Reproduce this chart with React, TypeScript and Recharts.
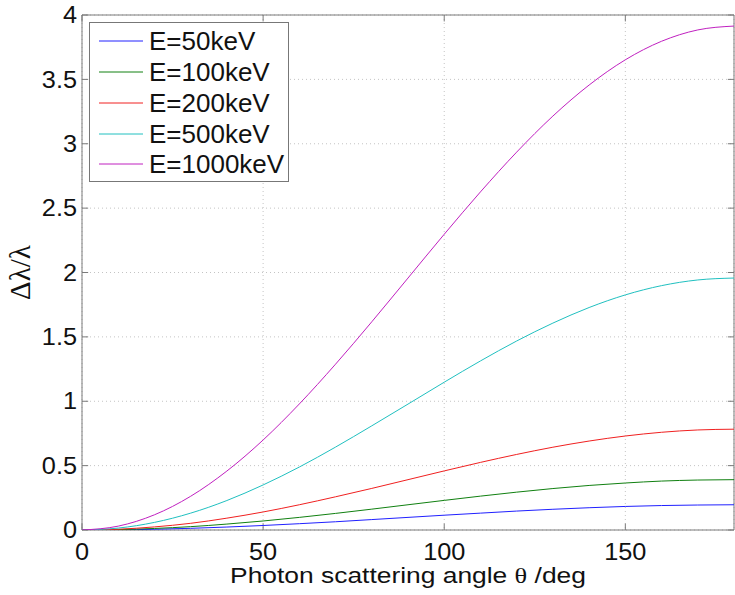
import {
  CartesianGrid,
  Label,
  Legend,
  Line,
  LineChart,
  ReferenceArea,
  ReferenceLine,
  XAxis,
  YAxis
} from 'recharts'

// scattering angle, degrees
const angles = [0, 10, 20, 30, 40, 50, 60, 70, 80, 90, 100, 110, 120, 130, 140, 150, 160, 170, 180]

// relative wavelength shift
const e50 = [0, 0.001, 0.006, 0.013, 0.023, 0.035, 0.049, 0.064, 0.081, 0.098, 0.115, 0.131, 0.147, 0.161, 0.173, 0.183, 0.19, 0.194, 0.196]
const e100 = [0, 0.003, 0.012, 0.026, 0.046, 0.07, 0.098, 0.129, 0.162, 0.196, 0.23, 0.263, 0.294, 0.322, 0.346, 0.365, 0.38, 0.388, 0.391]
const e200 = [0, 0.006, 0.024, 0.052, 0.092, 0.14, 0.196, 0.258, 0.323, 0.391, 0.459, 0.525, 0.587, 0.643, 0.691, 0.73, 0.759, 0.777, 0.783]
const e500 = [0, 0.015, 0.059, 0.131, 0.229, 0.35, 0.489, 0.644, 0.809, 0.978, 1.148, 1.313, 1.468, 1.607, 1.728, 1.826, 1.898, 1.942, 1.957]
const e1000 = [0, 0.03, 0.118, 0.262, 0.458, 0.699, 0.979, 1.288, 1.617, 1.957, 2.297, 2.626, 2.935, 3.215, 3.456, 3.652, 3.796, 3.884, 3.914]

const seriesKeys = ['e50', 'e100', 'e200', 'e500', 'e1000']
const seriesNames = ['E=50keV', 'E=100keV', 'E=200keV', 'E=500keV', 'E=1000keV']
const seriesColors = ['#2020ff', '#108010', '#f02020', '#20c0c0', '#c020c0']

const xTicks = [0, 50, 100, 150]
const yTicks = [0, 0.5, 1, 1.5, 2, 2.5, 3, 3.5, 4]

const data = angles.map((angle, i) => ({
  angle,
  e50: e50[i],
  e100: e100[i],
  e200: e200[i],
  e500: e500[i],
  e1000: e1000[i]
}))

const SANS = '"Liberation Sans", Arial, Helvetica, sans-serif'
const SERIF = '"Liberation Serif", "Times New Roman", serif'
const AXIS_GRAY = '#7a7a7a'
const TICK_STRETCH = 1.1
const LABEL_STRETCH = 1.2

function XTick(props: any) {
  const { x, y, payload } = props
  return (
    <text
      transform={`translate(${x},${y}) scale(${TICK_STRETCH},1)`}
      textAnchor="middle"
      dy="0.71em"
      fontSize={23}
      fontFamily={SANS}
      fill="#111"
    >
      {payload.value}
    </text>
  )
}

function YTick(props: any) {
  const { x, y, payload } = props
  return (
    <text
      transform={`translate(${x},${y}) scale(${TICK_STRETCH},1)`}
      textAnchor="end"
      dy="0.355em"
      fontSize={23}
      fontFamily={SANS}
      fill="#111"
    >
      {payload.value}
    </text>
  )
}

function XTitle(props: any) {
  const vb = props.viewBox
  return (
    <text
      transform={`translate(${vb.x + vb.width / 2},${vb.y + 53}) scale(${LABEL_STRETCH},1)`}
      textAnchor="middle"
      fontSize={22}
      fontFamily={SANS}
      fill="#111"
    >
      Photon scattering angle <tspan fontFamily={SERIF}>θ</tspan> /deg
    </text>
  )
}

function YTitle(props: any) {
  const vb = props.viewBox
  return (
    <text
      transform={`translate(${vb.x + 20},${vb.y + vb.height / 2}) rotate(-90)`}
      textAnchor="middle"
      dominantBaseline="central"
      fontSize={29}
      fontFamily={SERIF}
      fill="#111"
    >
      Δλ/λ
    </text>
  )
}

function LegendBox() {
  return (
    <div
      style={{
        width: 198,
        height: 155,
        border: '1px solid #777',
        background: '#fff',
        paddingTop: 3,
        boxSizing: 'content-box',
        fontFamily: SANS,
        fontSize: 26,
        color: '#111'
      }}
    >
      {seriesNames.map((name, i) => (
        <div key={name} style={{ display: 'flex', alignItems: 'center', height: 30.75 }}>
          <svg width={59} height={10} style={{ flex: 'none' }}>
            <line x1={9} x2={53} y1={5} y2={5} stroke={seriesColors[i]} strokeWidth={1} />
          </svg>
          <span style={{ whiteSpace: 'nowrap', lineHeight: 1 }}>{name}</span>
        </div>
      ))}
    </div>
  )
}

export default function App() {
  return (
    <div style={{ position: 'absolute', left: 0, top: 0, background: '#fff' }}>
      <LineChart width={735} height={595} data={data} margin={{ top: 15, right: 1, left: 0, bottom: 0 }}>
        <CartesianGrid stroke="#c4c4c4" strokeDasharray="1 3" />
        <XAxis
          type="number"
          dataKey="angle"
          domain={[0, 180]}
          ticks={xTicks}
          allowDataOverflow
          tick={XTick}
          tickLine={false}
          axisLine={false}
          tickSize={0}
          tickMargin={14}
          height={65}
          label={<Label content={XTitle} />}
        />
        <YAxis
          type="number"
          domain={[0, 4]}
          ticks={yTicks}
          allowDataOverflow
          tick={YTick}
          tickLine={false}
          axisLine={false}
          tickSize={0}
          tickMargin={5}
          width={82}
          label={<Label content={YTitle} />}
        />
        <ReferenceArea x1={0} x2={180} y1={0} y2={4} fill="none" stroke={AXIS_GRAY} strokeWidth={1} />
        {xTicks.map((t) => (
          <ReferenceLine key={`xb${t}`} segment={[{ x: t, y: 0 }, { x: t, y: 0.05 }]} stroke={AXIS_GRAY} />
        ))}
        {xTicks.map((t) => (
          <ReferenceLine key={`xt${t}`} segment={[{ x: t, y: 4 }, { x: t, y: 3.95 }]} stroke={AXIS_GRAY} />
        ))}
        {yTicks.map((t) => (
          <ReferenceLine key={`yl${t}`} segment={[{ x: 0, y: t }, { x: 1.7, y: t }]} stroke={AXIS_GRAY} />
        ))}
        {yTicks.map((t) => (
          <ReferenceLine key={`yr${t}`} segment={[{ x: 180, y: t }, { x: 178.3, y: t }]} stroke={AXIS_GRAY} />
        ))}
        {seriesKeys.map((key, i) => (
          <Line
            key={key}
            type="monotone"
            dataKey={key}
            name={seriesNames[i]}
            stroke={seriesColors[i]}
            strokeWidth={1}
            dot={false}
            activeDot={false}
            isAnimationActive={false}
          />
        ))}
        <Legend
          layout="vertical"
          align="center"
          verticalAlign="middle"
          content={LegendBox}
          wrapperStyle={{ left: 89, top: 22, width: 'auto', height: 'auto' }}
        />
      </LineChart>
    </div>
  )
}
